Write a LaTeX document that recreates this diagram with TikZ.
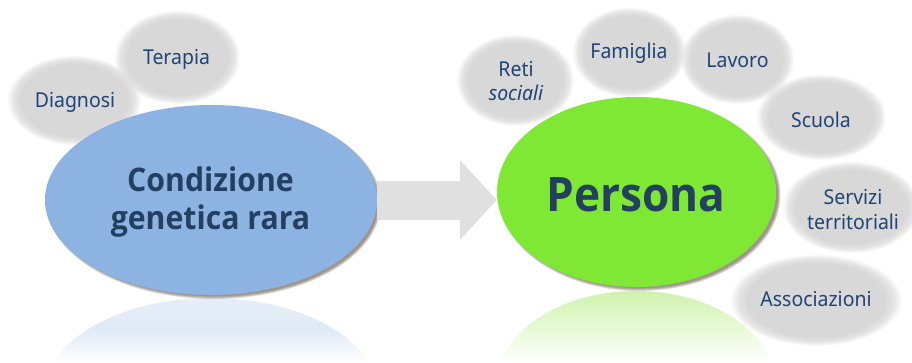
\documentclass[tikz,border=0pt]{standalone}
\usepackage{fontspec}
\setmainfont[FakeStretch=0.95]{Noto Sans}
\newfontfamily\headfont[FakeStretch=0.93]{Open Sans}
\usetikzlibrary{shapes.geometric,arrows.meta,fadings}
\definecolor{bubblegray}{HTML}{D8D8D8}
\definecolor{arrowgray}{HTML}{E0E0E0}
\definecolor{mainblue}{HTML}{8DB3E2}
\definecolor{maingreen}{HTML}{7FE835}
\definecolor{textnavy}{HTML}{244061}
\definecolor{smallnavy}{HTML}{1F4476}
\definecolor{shadowtan}{HTML}{6E6252}
\definecolor{blueA}{HTML}{E6EEF8}
\definecolor{blueB}{HTML}{E0EAF6}
\definecolor{greenA}{HTML}{CFF2AE}
\definecolor{greenB}{HTML}{E6F9D4}
\pgfdeclareradialshading{softshade}{\pgfpointorigin}{%
  color(0bp)=(pgftransparent!0);
  color(20bp)=(pgftransparent!0);
  color(22.5bp)=(pgftransparent!30);
  color(25bp)=(pgftransparent!100);
  color(50bp)=(pgftransparent!100)}
\pgfdeclarefading{softedge}{\pgfuseshading{softshade}}
\tikzset{
  bubbletext/.style={inner sep=0pt,text=smallnavy,align=center,
    font=\fontsize{20.5}{25.5}\selectfont},
  mainnode/.style={ellipse,inner sep=0pt},
  headtext/.style={inner sep=0pt,text=textnavy,align=center},
  bigarrow/.style={draw=arrowgray,line width=39pt,-{Triangle[length=37pt,width=78pt]}}
}
% soft-edged ellipse: #1 name, #2 #3 centre, #4 #5 radii, #6 #7 text position, #8 text
\newcommand{\softbubble}[8]{%
  \fill[bubblegray,path fading=softedge] (#2,#3) ellipse [x radius=#4,y radius=#5];
  \node[bubbletext] (#1) at (#6,#7) {#8};
}
\newcommand{\softshadow}[4]{%
  \foreach \k in {0,...,4}{
    \fill[shadowtan,opacity=.2] (#1+3,#2+3) ellipse [x radius=#3+1-\k*.7,y radius=#4+1-\k*.7];
  }
}
\newcommand{\reflection}[7]{%
  \begin{scope}
    \clip (#1,#2) ellipse [x radius=#3,y radius=#4];
    \shade[top color=#5,bottom color=white,middle color=#6] (#1-#3,#2-#4) rectangle (#1+#3,#7);
  \end{scope}
}
\begin{document}
\begin{tikzpicture}[x=1pt,y=-1pt]
\useasboundingbox (0,0) rectangle (912,362);
% reflections
\reflection{211}{393}{166}{95}{blueA}{blueB}{362}
\reflection{636}{386}{140}{95}{greenA}{greenB}{362}
% small bubbles
\softbubble{diagnosi}{74}{100}{67}{45}{75}{102}{Diagnosi}
\softbubble{terapia}{177}{57}{63}{47}{176.5}{59}{Terapia}
\softbubble{reti}{515}{80}{59}{46}{516}{81}{Reti\\[-1pt]\itshape sociali}
\softbubble{famiglia}{629}{52}{57}{45}{629}{53}{Famiglia}
\softbubble{lavoro}{737}{59}{57}{45}{737.5}{60}{Lavoro}
\softbubble{scuola}{821}{117}{65}{43}{821}{120}{Scuola}
\softbubble{servizi}{851}{207}{69}{46}{853}{209.5}{Servizi\\territoriali}
\softbubble{associazioni}{816}{300}{86}{46}{816}{299.5}{Associazioni}
% main ellipses
\softshadow{211}{200}{166}{95}
\softshadow{636.5}{192}{140}{95}
\node[mainnode,fill=mainblue,minimum width=332pt,minimum height=190pt] (condizione) at (211,200) {};
\node[mainnode,fill=maingreen,minimum width=279pt,minimum height=190pt] (persona) at (636.5,192) {};
\node[headtext,font=\headfont\bfseries\fontsize{32.5}{38}\selectfont] (condizionetext) at (210.5,202) {Condizione\\genetica rara};
\node[headtext,font=\headfont\bfseries\fontsize{47.5}{58}\selectfont] (personatext) at (636,195) {Persona};
% connector
\draw[bigarrow] (condizione.east) -- (condizione.east -| persona.west);
\end{tikzpicture}
\end{document}
